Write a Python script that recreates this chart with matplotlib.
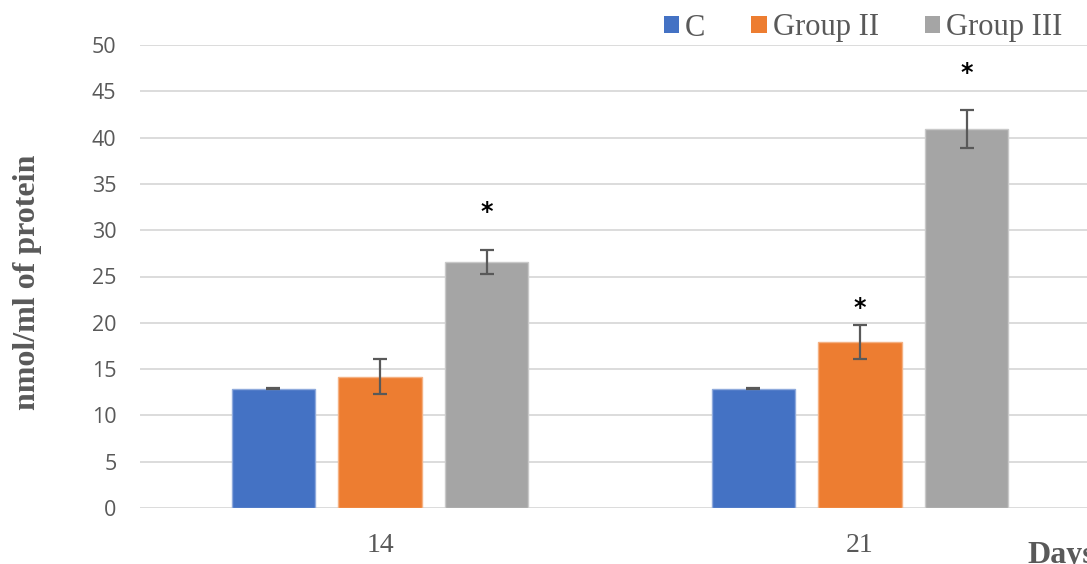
import matplotlib
matplotlib.use("Agg")
import matplotlib.pyplot as plt
from matplotlib.patches import Patch
import numpy as np

days = ["14", "21"]
groups = ["C", "Group II", "Group III"]
c_vals = [12.9, 12.9]
g2_vals = [14.2, 17.9]
g3_vals = [26.6, 40.9]
c_err = [0.05, 0.05]
g2_err = [1.85, 1.85]
g3_err = [1.3, 2.05]
# significance markers: (day index, group index, marker height)
stars = [(0, 2, 32.0), (1, 1, 21.6), (1, 2, 47.0)]

colors = ["#4472C4", "#ED7D31", "#A5A5A5"]
edges = ["#8FAADC", "#F4B183", "#C9C9C9"]
serif = "Liberation Serif"
text_gray = "#595959"

fig = plt.figure(figsize=(10.87, 5.64), dpi=100)
ax = fig.add_axes([140 / 1087, 56 / 564, 960 / 1087, 463 / 564])

x = np.arange(len(days))
offsets = [-0.222, 0.0, 0.222]
width = 0.173
values = [c_vals, g2_vals, g3_vals]
errors = [c_err, g2_err, g3_err]

for i in range(3):
    ax.bar(x + offsets[i], values[i], width, color=colors[i],
           edgecolor=edges[i], linewidth=1.0, zorder=3, label=groups[i])
    ax.errorbar(x + offsets[i], values[i], yerr=errors[i], fmt="none",
                ecolor="#595959", elinewidth=1.6, capsize=4.7,
                capthick=1.6, zorder=4)

for d, g, h in stars:
    ax.text(x[d] + offsets[g], h, "*", ha="center", va="center",
            fontsize=17, fontweight="bold", color="black", zorder=5)

ax.set_xlim(-0.5, 1.5)
ax.set_ylim(0, 50)
ax.set_yticks(np.arange(0, 51, 5))
ax.yaxis.grid(True, color="#D9D9D9", linewidth=1.3, zorder=0)
ax.set_axisbelow(True)
for s in ax.spines.values():
    s.set_visible(False)
ax.tick_params(axis="both", length=0)
ax.tick_params(axis="y", pad=17, labelsize=15.5, labelcolor=text_gray)
for lab in ax.get_yticklabels():
    lab.set_fontfamily("Open Sans")
ax.set_xticks(x)
ax.set_xticklabels(days, fontfamily=serif, fontsize=20, color=text_gray)
ax.tick_params(axis="x", pad=18)

fig.text(28 / 1087, 1 - 282 / 564, "nmol/ml of protein", rotation=90,
         ha="center", va="center", fontfamily=serif, fontsize=23,
         fontweight="bold", color=text_gray)
fig.text(1027 / 1087, 1 - 556 / 564, "Days", ha="left", va="center",
         fontfamily=serif, fontsize=23, fontweight="bold", color=text_gray)

handles = [Patch(facecolor=c, edgecolor="none") for c in colors]
fig.legend(handles, groups, loc="center right",
           bbox_to_anchor=(1090 / 1087, 1 - 28 / 564), ncol=3,
           frameon=False, prop={"family": serif, "size": 22},
           labelcolor=text_gray, handlelength=0.5, handleheight=0.5,
           handletextpad=0.2, columnspacing=1.5)

fig.savefig("out.png", dpi=100)
